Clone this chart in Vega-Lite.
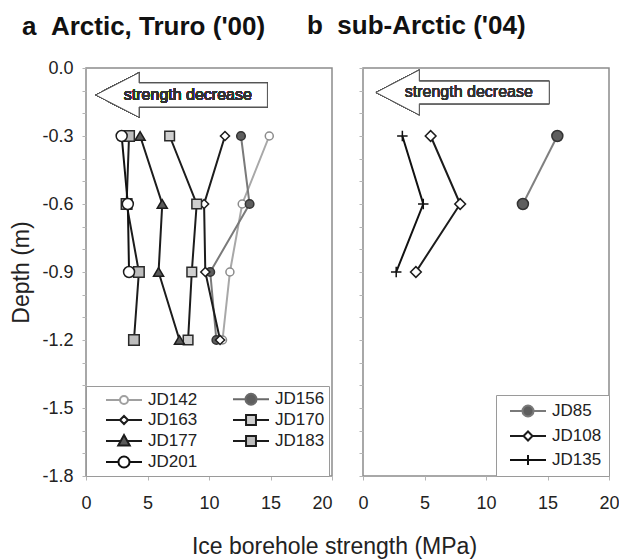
{
  "$schema": "https://vega.github.io/schema/vega-lite/v6.json",
  "padding": {"left": 10, "top": 11, "right": 0, "bottom": 0},
  "background": "white",
  "datasets": {
    "arctic": [
      {"series": "JD142", "depth": -0.3, "strength": 14.9},
      {"series": "JD142", "depth": -0.6, "strength": 12.7},
      {"series": "JD142", "depth": -0.9, "strength": 11.7},
      {"series": "JD142", "depth": -1.2, "strength": 11.1},
      {"series": "JD156", "depth": -0.3, "strength": 12.6},
      {"series": "JD156", "depth": -0.6, "strength": 13.3},
      {"series": "JD156", "depth": -0.9, "strength": 10.1},
      {"series": "JD156", "depth": -1.2, "strength": 10.6},
      {"series": "JD163", "depth": -0.3, "strength": 11.3},
      {"series": "JD163", "depth": -0.6, "strength": 9.6},
      {"series": "JD163", "depth": -0.9, "strength": 9.7},
      {"series": "JD163", "depth": -1.2, "strength": 10.9},
      {"series": "JD170", "depth": -0.3, "strength": 6.8},
      {"series": "JD170", "depth": -0.6, "strength": 9.0},
      {"series": "JD170", "depth": -0.9, "strength": 8.6},
      {"series": "JD170", "depth": -1.2, "strength": 8.3},
      {"series": "JD177", "depth": -0.3, "strength": 4.4},
      {"series": "JD177", "depth": -0.6, "strength": 6.2},
      {"series": "JD177", "depth": -0.9, "strength": 5.9},
      {"series": "JD177", "depth": -1.2, "strength": 7.6},
      {"series": "JD183", "depth": -0.3, "strength": 3.5},
      {"series": "JD183", "depth": -0.6, "strength": 3.3},
      {"series": "JD183", "depth": -0.9, "strength": 4.3},
      {"series": "JD183", "depth": -1.2, "strength": 3.9},
      {"series": "JD201", "depth": -0.3, "strength": 2.9},
      {"series": "JD201", "depth": -0.6, "strength": 3.4},
      {"series": "JD201", "depth": -0.9, "strength": 3.5}
    ],
    "subarctic": [
      {"series": "JD85", "depth": -0.3, "strength": 15.8},
      {"series": "JD85", "depth": -0.6, "strength": 13.0},
      {"series": "JD108", "depth": -0.3, "strength": 5.5},
      {"series": "JD108", "depth": -0.6, "strength": 7.9},
      {"series": "JD108", "depth": -0.9, "strength": 4.3},
      {"series": "JD135", "depth": -0.3, "strength": 3.2},
      {"series": "JD135", "depth": -0.6, "strength": 4.9},
      {"series": "JD135", "depth": -0.9, "strength": 2.7}
    ]
  },
  "config": {
    "font": "Liberation Sans",
    "view": {"stroke": "#8c8c8c", "strokeWidth": 1.5},
    "axis": {
      "grid": false,
      "domain": false,
      "ticks": true,
      "tickSize": 4,
      "tickColor": "#b5b5b5",
      "labelFont": "Liberation Sans",
      "labelFontSize": 18,
      "labelColor": "#222222",
      "titleFont": "Liberation Sans",
      "titleFontSize": 23,
      "titleFontWeight": "normal",
      "titleColor": "#222222"
    },
    "legend": {
      "title": null,
      "labelFont": "Liberation Sans",
      "labelFontSize": 17,
      "labelColor": "#222222",
      "symbolSize": 256,
      "symbolStrokeWidth": 2,
      "strokeColor": "#9a9a9a",
      "fillColor": "white",
      "offset": 0
    },
    "title": {"font": "Liberation Sans", "fontSize": 26, "fontWeight": "bold", "color": "#111111", "anchor": "start", "frame": "group", "baseline": "alphabetic"}
  },
  "spacing": 31,
  "bounds": "flush",
  "hconcat": [
    {
      "width": 246,
      "height": 408,
      "title": {"text": "a\u00a0\u00a0Arctic, Truro ('00)", "dx": -64, "offset": 19},
      "data": {"name": "arctic"},
      "encoding": {
        "x": {
          "field": "strength", "type": "quantitative",
          "scale": {"domain": [0, 20], "nice": false},
          "axis": {
            "values": [0, 5, 10, 15, 20],
            "labelFlush": false,
            "labelPadding": 14,
            "labelAlign": {"condition": {"test": "datum.value === 20", "value": "right"}, "value": "center"},
            "title": "Ice borehole strength (MPa)",
            "titleX": 248, "titleY": 77, "titleAlign": "center", "titleBaseline": "alphabetic"
          }
        },
        "y": {
          "field": "depth", "type": "quantitative",
          "scale": {"domain": [-1.8, 0], "nice": false, "zero": false},
          "axis": {
            "values": [0, -0.1, -0.2, -0.3, -0.4, -0.5, -0.6, -0.7, -0.8, -0.9, -1.0, -1.1, -1.2, -1.3, -1.4, -1.5, -1.6, -1.7, -1.8],
            "labelExpr": "round(datum.value * 10) % 3 === 0 ? (datum.value < 0 ? '-' + format(-datum.value, '.1f') : format(datum.value, '.1f')) : ''",
            "labelPadding": 9,
            "title": "Depth (m)",
            "titlePadding": 8
          }
        }
      },
      "layer": [
        {
          "mark": {"type": "point", "shape": "M-1,0L-0.495,-0.26V-0.14H1V0.14H-0.495V0.26Z", "size": 29480, "filled": true, "fill": "white", "stroke": "#555555", "strokeWidth": 1, "opacity": 1},
          "encoding": {"x": {"datum": 7.77, "type": "quantitative"}, "y": {"datum": -0.119, "type": "quantitative"}}
        },
        {
          "mark": {"type": "text", "text": "strength decrease", "fontSize": 16, "fontWeight": "normal", "color": "#333333", "align": "center", "baseline": "middle"},
          "encoding": {"x": {"datum": 8.28, "type": "quantitative"}, "y": {"datum": -0.119, "type": "quantitative"}}
        },
        {
          "mark": {"type": "line", "strokeWidth": 2},
          "encoding": {
            "order": {"field": "depth", "sort": "descending"},
            "stroke": {
              "field": "series", "type": "nominal", "legend": null,
              "scale": {"domain": ["JD142", "JD156", "JD163", "JD170", "JD177", "JD183", "JD201"],
                        "range": ["#a8a8a8", "#7a7a7a", "#1c1c1c", "#1c1c1c", "#1c1c1c", "#1c1c1c", "#111111"]}
            }
          }
        },
        {
          "mark": {"type": "point", "opacity": 1, "strokeWidth": 1.5},
          "encoding": {
            "shape": {
              "field": "series", "type": "nominal", "legend": null,
              "scale": {"domain": ["JD142", "JD156", "JD163", "JD170", "JD177", "JD183", "JD201"],
                        "range": ["circle", "circle", "diamond", "square", "triangle-up", "square", "circle"]}
            },
            "size": {
              "field": "series", "type": "nominal", "legend": null,
              "scale": {"domain": ["JD142", "JD156", "JD163", "JD170", "JD177", "JD183", "JD201"],
                        "range": [64, 121, 70, 121, 121, 121, 121]}
            },
            "fill": {
              "field": "series", "type": "nominal", "legend": null,
              "scale": {"domain": ["JD142", "JD156", "JD163", "JD170", "JD177", "JD183", "JD201"],
                        "range": ["white", "#5e5e5e", "white", "#cfcfcf", "#5a5a5a", "#bdbdbd", "white"]}
            },
            "stroke": {
              "field": "series", "type": "nominal", "legend": null,
              "scale": {"domain": ["JD142", "JD156", "JD163", "JD170", "JD177", "JD183", "JD201"],
                        "range": ["#8c8c8c", "#333333", "#1c1c1c", "#2a2a2a", "#1c1c1c", "#2a2a2a", "#1c1c1c"]}
            }
          }
        },
        {
          "transform": [{"filter": "false"}],
          "mark": {"type": "point", "opacity": 1, "strokeWidth": 2},
          "encoding": {
            "shape": {
              "field": "series", "type": "nominal",
              "scale": {"domain": ["JD142", "JD156", "JD163", "JD170", "JD177", "JD183", "JD201"],
                        "range": [
                          "M-2.25,0H-0.5M0.5,0H2.25M-0.5,0A0.5,0.5,0,1,0,0.5,0A0.5,0.5,0,1,0,-0.5,0Z",
                          "M-2.25,0H-0.69M0.69,0H2.25M-0.69,0A0.69,0.69,0,1,0,0.69,0A0.69,0.69,0,1,0,-0.69,0Z",
                          "M-2.25,0H-0.5M0.5,0H2.25M-0.5,0L0,-0.5L0.5,0L0,0.5Z",
                          "M-2.25,0H-0.62M0.62,0H2.25M-0.62,-0.62H0.62V0.62H-0.62Z",
                          "M-2.25,0H-0.42M0.42,0H2.25M0,-0.75L0.72,0.55H-0.72Z",
                          "M-2.25,0H-0.62M0.62,0H2.25M-0.62,-0.62H0.62V0.62H-0.62Z",
                          "M-2.25,0H-0.69M0.69,0H2.25M-0.69,0A0.69,0.69,0,1,0,0.69,0A0.69,0.69,0,1,0,-0.69,0Z"
                        ]},
              "legend": {
                "orient": "bottom-left",
                "direction": "horizontal",
                "columns": 2,
                "padding": 4,
                "rowPadding": 2,
                "columnPadding": 19,
                "symbolOffset": 25,
                "labelOffset": 15
              }
            },
            "fill": {
              "field": "series", "type": "nominal",
              "scale": {"domain": ["JD142", "JD156", "JD163", "JD170", "JD177", "JD183", "JD201"],
                        "range": ["white", "#5e5e5e", "white", "#cfcfcf", "#5a5a5a", "#bdbdbd", "white"]}
            },
            "stroke": {
              "field": "series", "type": "nominal",
              "scale": {"domain": ["JD142", "JD156", "JD163", "JD170", "JD177", "JD183", "JD201"],
                        "range": ["#a0a0a0", "#6a6a6a", "#1c1c1c", "#1c1c1c", "#1c1c1c", "#1c1c1c", "#111111"]}
            }
          }
        }
      ],
      "resolve": {"scale": {"stroke": "independent", "fill": "independent", "shape": "independent", "size": "independent"}}
    },
    {
      "width": 246,
      "height": 408,
      "title": {"text": "b\u00a0\u00a0sub-Arctic ('04)", "dx": -56, "offset": 29},
      "data": {"name": "subarctic"},
      "encoding": {
        "x": {
          "field": "strength", "type": "quantitative",
          "scale": {"domain": [0, 20], "nice": false},
          "axis": {"values": [0, 5, 10, 15, 20], "labelFlush": false, "labelPadding": 14, "title": null}
        },
        "y": {
          "field": "depth", "type": "quantitative",
          "scale": {"domain": [-1.8, 0], "nice": false, "zero": false},
          "axis": {
            "values": [0, -0.1, -0.2, -0.3, -0.4, -0.5, -0.6, -0.7, -0.8, -0.9, -1.0, -1.1, -1.2, -1.3, -1.4, -1.5, -1.6, -1.7, -1.8],
            "labels": false,
            "title": null
          }
        }
      },
      "layer": [
        {
          "mark": {"type": "point", "shape": "M-1,0L-0.5,-0.26V-0.13H1V0.13H-0.5V0.26Z", "size": 30030, "filled": true, "fill": "white", "stroke": "#555555", "strokeWidth": 1, "opacity": 1},
          "encoding": {"x": {"datum": 8.1, "type": "quantitative"}, "y": {"datum": -0.108, "type": "quantitative"}}
        },
        {
          "mark": {"type": "text", "text": "strength decrease", "fontSize": 16, "fontWeight": "normal", "color": "#333333", "align": "center", "baseline": "middle"},
          "encoding": {"x": {"datum": 8.6, "type": "quantitative"}, "y": {"datum": -0.108, "type": "quantitative"}}
        },
        {
          "mark": {"type": "line", "strokeWidth": 2},
          "encoding": {
            "order": {"field": "depth", "sort": "descending"},
            "stroke": {
              "field": "series", "type": "nominal", "legend": null,
              "scale": {"domain": ["JD85", "JD108", "JD135"], "range": ["#808080", "#1c1c1c", "#111111"]}
            }
          }
        },
        {
          "mark": {"type": "point", "opacity": 1, "strokeWidth": 1.5},
          "encoding": {
            "shape": {
              "field": "series", "type": "nominal", "legend": null,
              "scale": {"domain": ["JD85", "JD108", "JD135"], "range": ["circle", "diamond", "M-1,0H1M0,-1V1"]}
            },
            "size": {
              "field": "series", "type": "nominal", "legend": null,
              "scale": {"domain": ["JD85", "JD108", "JD135"], "range": [121, 110, 100]}
            },
            "fill": {
              "field": "series", "type": "nominal", "legend": null,
              "scale": {"domain": ["JD85", "JD108", "JD135"], "range": ["#5e5e5e", "white", "white"]}
            },
            "stroke": {
              "field": "series", "type": "nominal", "legend": null,
              "scale": {"domain": ["JD85", "JD108", "JD135"], "range": ["#333333", "#1c1c1c", "#111111"]}
            }
          }
        },
        {
          "transform": [{"filter": "false"}],
          "mark": {"type": "point", "opacity": 1, "strokeWidth": 2},
          "encoding": {
            "shape": {
              "field": "series", "type": "nominal",
              "scale": {"domain": ["JD85", "JD108", "JD135"],
                        "range": [
                          "M-2.25,0H-0.69M0.69,0H2.25M-0.69,0A0.69,0.69,0,1,0,0.69,0A0.69,0.69,0,1,0,-0.69,0Z",
                          "M-2.25,0H-0.56M0.56,0H2.25M-0.56,0L0,-0.56L0.56,0L0,0.56Z",
                          "M-2.25,0H2.25M0,-0.62V0.62"
                        ]},
              "legend": {
                "orient": "bottom-right",
                "padding": 7,
                "rowPadding": 6,
                "symbolOffset": 16,
                "labelOffset": 15
              }
            },
            "fill": {
              "field": "series", "type": "nominal",
              "scale": {"domain": ["JD85", "JD108", "JD135"], "range": ["#5e5e5e", "white", "white"]}
            },
            "stroke": {
              "field": "series", "type": "nominal",
              "scale": {"domain": ["JD85", "JD108", "JD135"], "range": ["#7a7a7a", "#1c1c1c", "#111111"]}
            }
          }
        }
      ],
      "resolve": {"scale": {"stroke": "independent", "fill": "independent", "shape": "independent", "size": "independent"}}
    }
  ]
}
